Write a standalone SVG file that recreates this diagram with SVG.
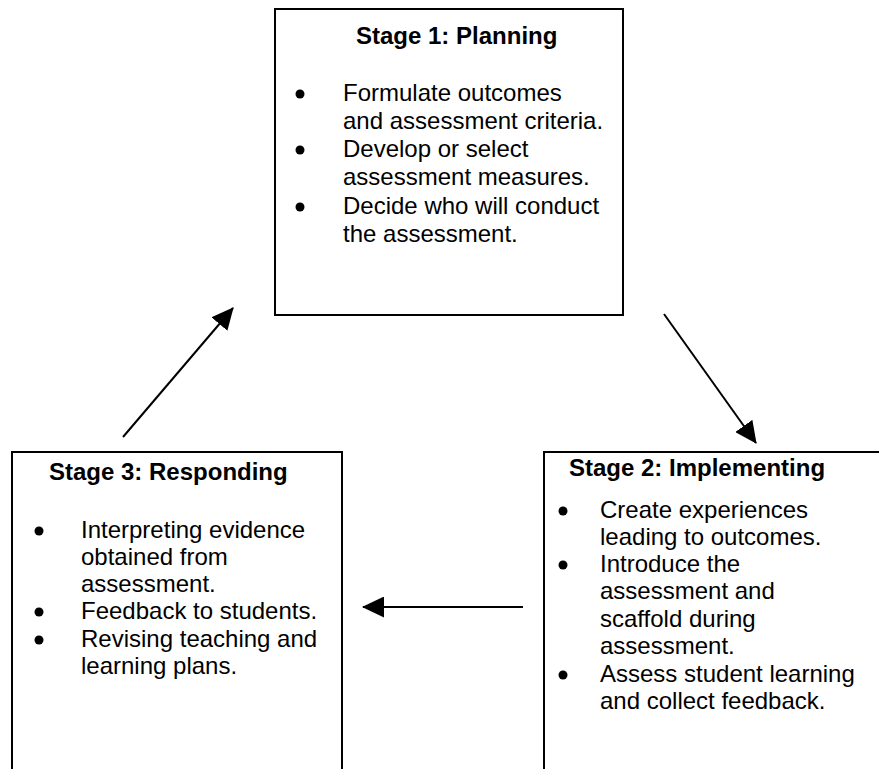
<svg xmlns="http://www.w3.org/2000/svg" width="879" height="769" viewBox="0 0 879 769">
<style>
.box{fill:#fff;stroke:#000;stroke-width:2}
.t{font-family:"Liberation Sans",Arial,sans-serif;font-size:24px;fill:#000}
.h{font-weight:bold}
.b{fill:#000}
.c{stroke:#000;stroke-width:2;fill:none}
</style>
<defs>
<marker id="ah" viewBox="0 0 22 21" refX="21" refY="10.5" markerWidth="22" markerHeight="21" markerUnits="userSpaceOnUse" orient="auto"><path d="M0,0 L22,10.5 L0,21 Z" fill="#000"/></marker>
</defs>
<rect width="879" height="769" fill="#fff"/>
<g id="stage1">
<rect class="box" x="275" y="9" width="348" height="306"/>
<text class="t h" x="356" y="44">Stage 1: Planning</text>
<circle class="b" cx="300" cy="94" r="4.5"/>
<circle class="b" cx="300" cy="150" r="4.5"/>
<circle class="b" cx="300" cy="207" r="4.5"/>
<text class="t" x="343" y="101">Formulate outcomes</text>
<text class="t" x="343" y="129">and assessment criteria.</text>
<text class="t" x="343" y="157">Develop or select</text>
<text class="t" x="343" y="185">assessment measures.</text>
<text class="t" x="343" y="214">Decide who will conduct</text>
<text class="t" x="343" y="242">the assessment.</text>
</g>
<g id="stage2">
<rect class="box" x="544" y="452" width="345" height="330"/>
<text class="t h" x="569" y="476">Stage 2: Implementing</text>
<circle class="b" cx="563" cy="511" r="4.5"/>
<circle class="b" cx="563" cy="565" r="4.5"/>
<circle class="b" cx="563" cy="675" r="4.5"/>
<text class="t" x="600" y="518">Create experiences</text>
<text class="t" x="600" y="545">leading to outcomes.</text>
<text class="t" x="600" y="572">Introduce the</text>
<text class="t" x="600" y="599">assessment and</text>
<text class="t" x="600" y="627">scaffold during</text>
<text class="t" x="600" y="654">assessment.</text>
<text class="t" x="600" y="682">Assess student learning</text>
<text class="t" x="600" y="709">and collect feedback.</text>
</g>
<g id="stage3">
<rect class="box" x="12" y="452" width="330" height="330"/>
<text class="t h" x="49" y="480">Stage 3: Responding</text>
<circle class="b" cx="39" cy="531" r="4.5"/>
<circle class="b" cx="39" cy="612" r="4.5"/>
<circle class="b" cx="39" cy="640" r="4.5"/>
<text class="t" x="81" y="538">Interpreting evidence</text>
<text class="t" x="81" y="565">obtained from</text>
<text class="t" x="81" y="592">assessment.</text>
<text class="t" x="81" y="619">Feedback to students.</text>
<text class="t" x="81" y="647">Revising teaching and</text>
<text class="t" x="81" y="674">learning plans.</text>
</g>
<g id="connectors">
<line class="c" x1="123" y1="437" x2="233" y2="308" marker-end="url(#ah)"/>
<line class="c" x1="664" y1="314" x2="756" y2="443" marker-end="url(#ah)"/>
<line class="c" x1="523" y1="607" x2="363" y2="607" marker-end="url(#ah)"/>
</g>
</svg>
